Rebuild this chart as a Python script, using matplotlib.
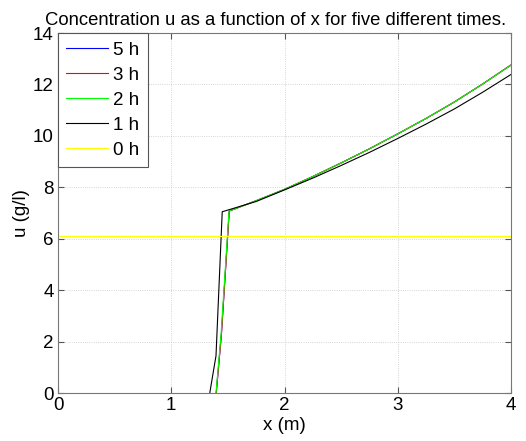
import matplotlib
matplotlib.use('Agg')
import matplotlib.pyplot as plt

# concentration profiles
x_2h = [1.395, 1.44, 1.51, 1.75, 2.0, 2.25, 2.5, 2.75, 3.0, 3.25, 3.5, 3.75, 4.0]
u_2h = [0.0, 2.3, 7.08, 7.48, 7.92, 8.42, 8.95, 9.5, 10.08, 10.68, 11.32, 12.02, 12.75]
x_3h = [1.397, 1.443, 1.512, 1.75, 2.0, 2.25, 2.5, 2.75, 3.0, 3.25, 3.5, 3.75, 4.0]
u_3h = [0.0, 2.3, 7.08, 7.48, 7.92, 8.42, 8.95, 9.5, 10.08, 10.68, 11.32, 12.02, 12.76]
x_5h = [1.397, 1.443, 1.512, 1.75, 2.0, 2.25, 2.5, 2.75, 3.0, 3.25, 3.5, 3.75, 4.0]
u_5h = [0.0, 2.3, 7.08, 7.48, 7.92, 8.42, 8.95, 9.5, 10.08, 10.68, 11.32, 12.02, 12.76]
x_1h = [1.34, 1.395, 1.45, 1.75, 2.0, 2.25, 2.5, 2.75, 3.0, 3.25, 3.5, 3.75, 4.0]
u_1h = [0.0, 1.45, 7.05, 7.45, 7.9, 8.36, 8.85, 9.36, 9.9, 10.46, 11.05, 11.7, 12.39]
x_0h = [0.0, 4.0]
u_0h = [6.09, 6.09]

series = [
    ('5 h', x_5h, u_5h, 'b'),
    ('3 h', x_3h, u_3h, 'r'),
    ('2 h', x_2h, u_2h, '#00ff00'),
    ('1 h', x_1h, u_1h, 'k'),
    ('0 h', x_0h, u_0h, '#ffff00'),
]

plt.rcParams['font.family'] = ['Liberation Sans', 'DejaVu Sans']
plt.rcParams['font.size'] = 13.5

fig = plt.figure(figsize=(5.26, 4.41), dpi=100)
ax = fig.add_axes([0.1103, 0.1088, 0.8612, 0.8162])

for label, xs, us, color in series:
    ax.plot(xs, us, color=color, linewidth=0.8, label=label)

ax.set_xlim(0, 4)
ax.set_ylim(0, 14)
ax.set_xticks([0, 1, 2, 3, 4])
ax.set_yticks(range(0, 15, 2))
ax.grid(True, linestyle=':', color='#c8c8c8', linewidth=0.6)
ax.tick_params(direction='in', length=4, color='#555555', top=True, right=True, pad=3)
for spine in ax.spines.values():
    spine.set_color('#777777')
    spine.set_linewidth(0.8)

ax.set_xlabel('x (m)', labelpad=2)
ax.set_ylabel('u (g/l)', labelpad=2)
ax.set_title('Concentration u as a function of x for five different times.',
             fontsize=13.3, pad=6, x=0.48)

leg = ax.legend(loc='upper left', borderaxespad=0, fancybox=False,
                edgecolor='#555555', framealpha=1, handlelength=2.2,
                handletextpad=0.3, labelspacing=0.42, borderpad=0.45,
                fontsize=13.5)
leg.get_frame().set_linewidth(0.8)

fig.savefig('out.png', dpi=100)
